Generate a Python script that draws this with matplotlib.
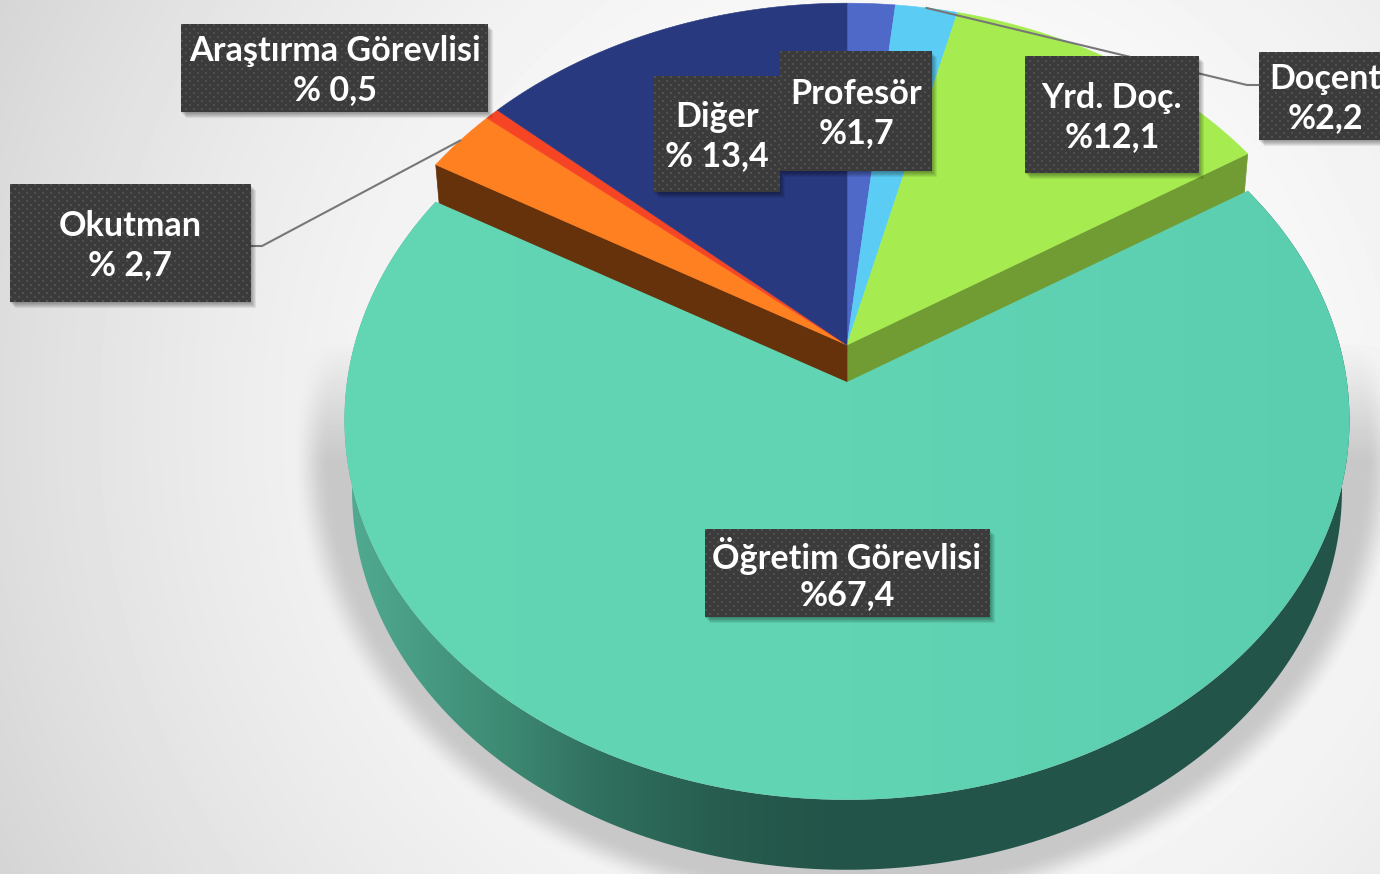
#!/usr/bin/python3
import numpy as np
import matplotlib
matplotlib.use('Agg')
import matplotlib.pyplot as plt
from matplotlib.patches import Polygon, Rectangle

names = ['Profesör', 'Doçent', 'Yrd. Doç.', 'Öğretim Görevlisi', 'Okutman', 'Araştırma Görevlisi', 'Diğer']
values = [1.7, 2.2, 12.1, 67.4, 2.7, 0.5, 13.4]
value_labels = ['%1,7', '%2,2', '%12,1', '%67,4', '% 2,7', '% 0,5', '% 13,4']
colors = ['#4f69c9', '#5bcdf5', '#a6ec50', '#60d4b3', '#ff8020', '#f54525', '#28397f']

# label boxes x0, y0, x1, y1 and text centre
boxes = {
    'Diğer': (654, 76, 780, 192, 717, 117),
    'Profesör': (780, 51, 932, 171, 856, 94),
    'Yrd. Doç.': (1025, 56, 1199, 173, 1112, 98),
    'Doçent': (1259, 52, 1395, 140, 1325, 79),
    'Araştırma Görevlisi': (181, 24, 488, 112, 335, 51),
    'Okutman': (10, 184, 251, 302, 130, 226),
    'Öğretim Görevlisi': (705, 529, 990, 617, 847, 556),
}

W, H = 1380, 874
CX, CY, R, S, K = 847.0, 345.0, 500.0, 376.0, 0.1
EXPLODE = 37
DEPTH = 70
FS = 24.6


def project(theta, shift=0.0, scale=1.0):
    u, v = np.sin(theta), np.cos(theta)
    d = 1 + K * v
    return CX + R * scale * u / d, CY + shift - S * v / d


def rim(t0, t1, shift=0.0, scale=1.0):
    t = np.linspace(t0, t1, 240)
    x, y = project(t, shift, scale)
    return np.column_stack([x, y])


def background():
    yy, xx = np.mgrid[0:H, 0:W]
    d2 = (xx - 890.0) ** 2 + (yy - 420.0) ** 2
    img = 255 - 43 * d2 / 1000.0 ** 2
    # soft shadow under the pie
    e = np.sqrt(((xx - CX) / 503.0) ** 2 + ((yy - 452) / 421.0) ** 2)
    a = np.clip((1.105 - e) / 0.075, 0, 1)
    a = a * a * (3 - 2 * a)
    low = np.clip((yy - 340) / 120.0, 0, 1)
    return img * (1 - a * low) + 200 * a * low


def gradient_fill(ax, pts, stops_x, stops_rgb, z):
    xs = np.arange(W)
    arr = np.stack([np.interp(xs, stops_x, [c[i] for c in stops_rgb]) for i in range(3)], axis=1)
    im = ax.imshow(arr[np.newaxis, :, :] / 255.0, extent=(0, W, H, 0), aspect='auto', zorder=z)
    clip = Polygon(pts, closed=True, transform=ax.transData, fc='none', ec='none')
    ax.add_patch(clip)
    im.set_clip_path(clip)


def label_box(ax, name, value_label, box, z):
    x0, y0, x1, y1, tx, ty = box
    for i in range(6):
        ax.add_patch(Rectangle((x0 + 5 - i, y0 + 6 - i), x1 - x0, y1 - y0, fc='black', ec='none', alpha=0.07, zorder=z))
    h, w = int(y1 - y0), int(x1 - x0)
    yy, xx = np.mgrid[0:h, 0:w]
    dots = ((xx % 8 < 2) & (yy % 8 < 2)) | (((xx + 4) % 8 < 2) & ((yy + 4) % 8 < 2))
    tile = np.where(dots, 0x50, 0x3b) / 255.0
    ax.imshow(tile, cmap='gray', vmin=0, vmax=1, extent=(x0, x1, y1, y0), aspect='auto',
              interpolation='nearest', zorder=z + 0.1)
    ax.text(tx, ty, name, color='white', fontsize=FS, fontweight='bold', family='Lato',
            ha='center', va='center', zorder=z + 0.2)
    ax.text(tx, ty + 39, value_label, color='white', fontsize=FS, fontweight='bold', family='Lato',
            ha='center', va='center', zorder=z + 0.2)


fig = plt.figure(figsize=(W / 100, H / 100), dpi=100)
ax = fig.add_axes([0, 0, 1, 1])
ax.axis('off')
ax.imshow(background(), cmap='gray', vmin=0, vmax=255, extent=(0, W, H, 0), aspect='auto', zorder=0)

edges = 2 * np.pi * np.concatenate([[0], np.cumsum(values)]) / np.sum(values)
big = int(np.argmax(values))
t_start, t_end = edges[big], edges[big + 1]

# radial walls left open by the pulled out slice
for t, c in [(t_start, '#719b33'), (t_end, '#66320b')]:
    x, y = project(t)
    xb, yb = project(t, DEPTH, 0.985)
    ax.add_patch(Polygon([(CX, CY), (x, y), (xb, yb), (CX, CY + DEPTH)], closed=True, fc=c, ec=c, lw=0.5, zorder=1))

# top faces of the back slices
for i, c in enumerate(colors):
    if i == big:
        continue
    pts = np.vstack([[(CX, CY)], rim(edges[i], edges[i + 1])])
    ax.add_patch(Polygon(pts, closed=True, fc=c, ec=c, lw=0.4, zorder=2))

# leader lines
mid = (edges[:-1] + edges[1:]) / 2
dx, dy = project(mid[names.index('Doçent')])
ax.plot([dx, 1247, 1259], [dy, 85, 85], color='#777777', lw=1.5, zorder=3)
ox, oy = project(mid[names.index('Okutman')])
ax.plot([ox, 262, 251], [oy, 246, 246], color='#777777', lw=1.5, zorder=3)

# wall of the big slice
outer = rim(t_start, t_end, EXPLODE, 1.0)
lower = rim(t_start, t_end, EXPLODE + DEPTH, 0.985)
wall = np.vstack([outer, lower[::-1]])
gradient_fill(ax, wall,
              [353, 500, 600, 720, 830, 1380],
              [(0x50, 0xaa, 0x90), (0x3e, 0x8b, 0x74), (0x30, 0x70, 0x5e), (0x27, 0x5c, 0x4e), (0x23, 0x54, 0x49), (0x23, 0x54, 0x49)],
              4)

# top of the big slice
top = np.vstack([[(CX, CY + EXPLODE)], outer])
gradient_fill(ax, top, [345, 850, 1350],
              [(0x63, 0xd7, 0xb4), (0x60, 0xd4, 0xb3), (0x5b, 0xce, 0xb0)], 5)

order = ['Diğer', 'Profesör', 'Yrd. Doç.', 'Doçent', 'Araştırma Görevlisi', 'Okutman', 'Öğretim Görevlisi']
for n, name in enumerate(order):
    label_box(ax, name, value_labels[names.index(name)], boxes[name], 6 + n)

ax.set_xlim(0, W)
ax.set_ylim(H, 0)
fig.savefig('out.png', dpi=100)
